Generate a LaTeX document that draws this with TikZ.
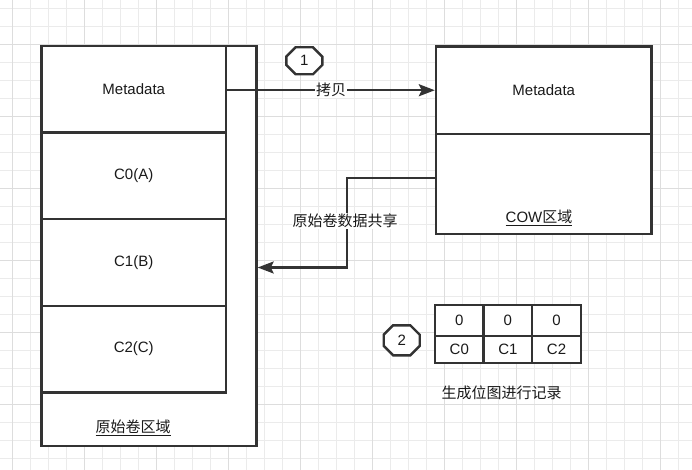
\documentclass[tikz,border=0pt]{standalone}
\usepackage{fontspec}
\setmainfont{Liberation Sans}
\newfontfamily\cjk{Noto Sans CJK SC}
\usetikzlibrary{arrows.meta,shapes.misc}
\definecolor{ln}{HTML}{333333}
\definecolor{tx}{HTML}{1A1A1A}
\definecolor{gridminor}{HTML}{EBEBEB}
\definecolor{gridmajor}{HTML}{DDDDDD}
\tikzset{
  every node/.style={text=tx, font=\fontsize{15}{18}\selectfont},
  cell/.style={draw=ln, line width=2.4pt, fill=white, inner sep=0pt, anchor=center},
  badge/.style={draw=ln, line width=2.4pt, fill=white, chamfered rectangle, chamfered rectangle xsep=6pt, chamfered rectangle ysep=6pt, minimum width=36pt, minimum height=27pt, inner sep=0pt},
  arr/.style={draw=ln, line width=2.4pt, -{Stealth[length=16pt,width=12pt,inset=3pt]}},
  lbl/.style={fill=white, inner sep=1pt},
}
\begin{document}
\begin{tikzpicture}[x=1pt,y=-1pt]
\useasboundingbox (0,0) rectangle (692,470);
\fill[white] (0,0) rectangle (692,470);
% grid
\foreach \k in {0,...,38} {
  \pgfmathsetmacro{\gx}{12.7+18*\k}
  \draw[gridminor, line width=0.8pt] (\gx,0) -- (\gx,470);
}
\foreach \k in {0,...,26} {
  \pgfmathsetmacro{\gy}{8.3+18*\k}
  \draw[gridminor, line width=0.8pt] (0,\gy) -- (692,\gy);
}
\foreach \k in {0,4,...,36} {
  \pgfmathsetmacro{\gx}{12.7+18*\k}
  \draw[gridmajor, line width=0.8pt] (\gx,0) -- (\gx,470);
}
\foreach \k in {2,6,...,26} {
  \pgfmathsetmacro{\gy}{8.3+18*\k}
  \draw[gridmajor, line width=0.8pt] (0,\gy) -- (692,\gy);
}
% original volume
\node[cell, minimum width=215pt, minimum height=400pt] (outer) at (149,246) {};
\node[cell, minimum width=184.5pt, minimum height=86.6pt] (meta) at (133.75,89.3) {Metadata};
\node[cell, minimum width=184.5pt, minimum height=86.6pt] (c0) at (133.75,175.9) {C0(A)};
\node[cell, minimum width=184.5pt, minimum height=86.6pt] (c1) at (133.75,262.5) {C1(B)};
\node[cell, minimum width=184.5pt, minimum height=86.6pt] (c2) at (133.75,349.1) {C2(C)};
\node (origlbl) at (133,428) {\cjk\underline{原始卷区域}};
% COW area
\node[cell, minimum width=215.5pt, minimum height=87.5pt] (cowmeta) at (543.75,90.25) {Metadata};
\node[cell, minimum width=215.5pt, minimum height=100pt] (cowbot) at (543.75,184) {};
\node (cowlbl) at (539,218) {\underline{COW{\cjk 区域}}};
% arrows
\coordinate (a1) at (meta.east |- cowmeta.west);
\draw[arr] (a1) -- node[lbl, pos=0.5] (copylbl) {\cjk 拷贝} (cowmeta.west);
\coordinate (s) at (436,178);
\coordinate (turn) at (346.7,267.5);
\draw[arr] (s) -| (turn) -- (turn -| outer.east);
\node[lbl] (sharelbl) at (345,221) {\cjk 原始卷数据共享};
% badges
\node[badge] (b1) at (304.3,60.8) {1};
\node[badge, minimum height=30pt] (b2) at (401.7,340.3) {2};
% bitmap table
\node[cell, minimum width=48.6pt, minimum height=31pt] (t00) at (459.3,320.5) {0};
\node[cell, minimum width=48.6pt, minimum height=31pt] (t01) at (507.9,320.5) {0};
\node[cell, minimum width=48.6pt, minimum height=31pt] (t02) at (556.5,320.5) {0};
\node[cell, minimum width=48.6pt, minimum height=27pt] (t10) at (459.3,349.5) {C0};
\node[cell, minimum width=48.6pt, minimum height=27pt] (t11) at (507.9,349.5) {C1};
\node[cell, minimum width=48.6pt, minimum height=27pt] (t12) at (556.5,349.5) {C2};
\node (bmlbl) at (501.7,393) {\cjk 生成位图进行记录};
\end{tikzpicture}
\end{document}
